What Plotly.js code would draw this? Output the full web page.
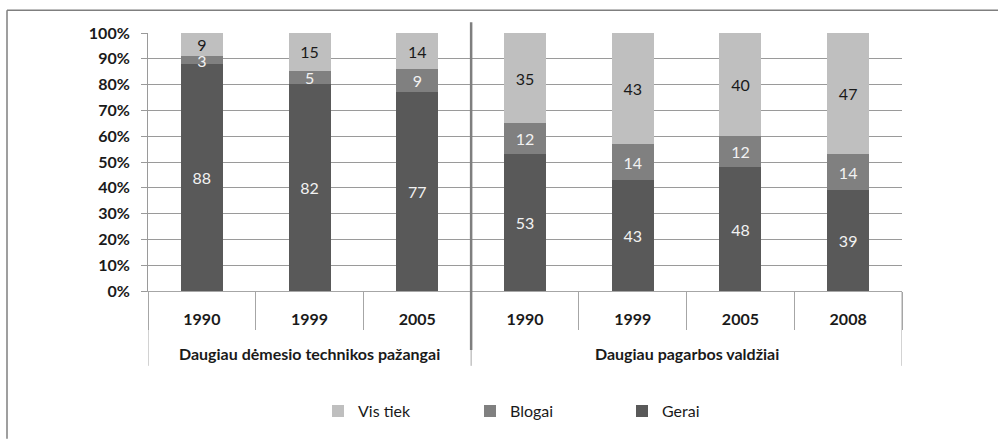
<!DOCTYPE html>
<html><head><meta charset="utf-8">
<script src="https://cdn.plot.ly/plotly-3.0.1.min.js"></script>
<style>html,body{margin:0;padding:0;background:#fff}#chart{width:998px;height:440px}</style>
</head><body><div id="chart"></div>
<script>
const groups = ['Daugiau dėmesio technikos pažangai', 'Daugiau pagarbos valdžiai'];
const groupSizes = [3, 4];
const years = ['1990','1999','2005','1990','1999','2005','2008'];
const gerai = [88,82,77,53,43,48,39];
const blogai = [3,5,9,12,14,12,14];
const visTiek = [9,15,14,35,43,40,47];
const yTickVals = [0,10,20,30,40,50,60,70,80,90,100];
const yTickText = ['0%','10%','20%','30%','40%','50%','60%','70%','80%','90%','100%'];
const seriesNames = ['Gerai','Blogai','Vis tiek'];
const seriesColors = ['#595959','#808080','#bfbfbf'];
const labelColors = ['#f2f2f2','#f2f2f2','#1a1a1a'];
const FONT = 'Lato, "Open Sans", sans-serif';

const xIdx = years.map((_, i) => i);
const data = [gerai, blogai, visTiek].map((vals, i) => ({
  type: 'bar', x: xIdx, y: vals, name: seriesNames[i],
  marker: {color: seriesColors[i], line: {width: 0}},
  text: vals.map(String), textposition: 'inside', insidetextanchor: 'middle', textangle: 0,
  textfont: {family: FONT, size: 16, color: labelColors[i]},
  hoverinfo: 'skip'
}));

const L = 148, R = 902, T = 33, B = 295;
const W = R - L, H = B - T;
const px = v => (v - L) / W;
const py = v => (B - v) / H;

const bounds = [-0.5].concat(xIdx.map(i => i + 0.5));
const groupBounds = [-0.5];
const groupCenters = [];
groupSizes.forEach(n => { const s = groupBounds[groupBounds.length - 1]; groupBounds.push(s + n); groupCenters.push(s + n / 2); });

const shapes = groupBounds.map((b, i) => ({
  type: 'line', xref: 'x', yref: 'paper', x0: b, x1: b, y0: py(371), y1: 0,
  line: {color: '#a6a6a6', width: 1}
}));
shapes.push({type: 'line', xref: 'x', yref: 'paper', x0: groupBounds[1], x1: groupBounds[1], y0: py(355), y1: py(22), line: {color: '#7f7f7f', width: 2.5}});
shapes.push({type: 'line', xref: 'paper', yref: 'paper', x0: px(7), x1: px(1000), y0: py(10), y1: py(10), line: {color: '#7f7f7f', width: 1.5}});
shapes.push({type: 'line', xref: 'paper', yref: 'paper', x0: px(7), x1: px(7), y0: py(10), y1: py(445), line: {color: '#7f7f7f', width: 1.5}});

const annotations = groups.map((g, i) => ({
  text: g, x: groupCenters[i], xref: 'x', y: py(358), yref: 'paper', yanchor: 'middle', showarrow: false,
  font: {family: FONT, size: 16, color: '#1a1a1a', weight: 'bold'}
}));

const layout = {
  width: 998, height: 440,
  margin: {l: L, r: 998 - R, t: T, b: 440 - B},
  paper_bgcolor: '#fff', plot_bgcolor: '#fff',
  font: {family: FONT, color: '#1a1a1a'},
  barmode: 'stack', barnorm: 'percent', bargap: 0.61,
  showlegend: true,
  legend: {orientation: 'h', traceorder: 'reversed', x: px(318), xanchor: 'left', y: py(417), yanchor: 'middle',
           font: {family: FONT, size: 16, color: '#1a1a1a'}, entrywidth: 107, entrywidthmode: 'pixels'},
  xaxis: {range: [-0.5, 6.5], tickmode: 'array', tickvals: xIdx, ticktext: years, ticks: '',
          showline: true, linecolor: '#a6a6a6', linewidth: 1, showgrid: false, zeroline: false,
          ticklabelstandoff: 14,
          minor: {tickmode: 'array', tickvals: bounds, ticks: 'outside', ticklen: 38, tickcolor: '#a6a6a6', tickwidth: 1, showgrid: false},
          tickfont: {family: FONT, size: 16, color: '#1a1a1a', weight: 'bold'}},
  yaxis: {range: [0, 100], tickmode: 'array', tickvals: yTickVals, ticktext: yTickText,
          showgrid: true, gridcolor: '#9a9a9a', gridwidth: 1, zeroline: false,
          showline: true, linecolor: '#9a9a9a', linewidth: 1, ticks: 'outside', ticklen: 6, tickcolor: '#9a9a9a',
          ticklabelstandoff: 8,
          tickfont: {family: FONT, size: 16, color: '#1a1a1a', weight: 'bold'}},
  uniformtext: {mode: 'show', minsize: 16},
  shapes: shapes,
  annotations: annotations
};
Plotly.newPlot('chart', data, layout, {displayModeBar: false, staticPlot: true});
</script>
</body></html>
